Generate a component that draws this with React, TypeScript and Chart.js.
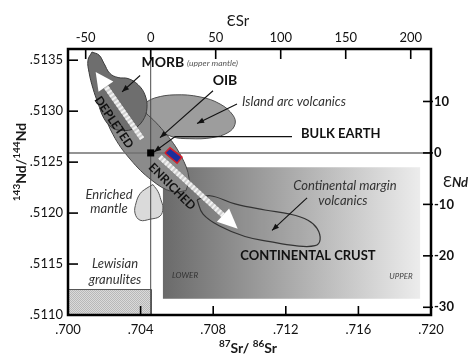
import React, { useEffect, useRef } from 'react';
import { Chart, registerables } from 'chart.js';
Chart.register(...registerables);

const FONT = 'Lato, "Open Sans", "DejaVu Sans", sans-serif';

// ---- axes ----
const srRange = [0.7, 0.72];
const ndRange = [0.511, 0.51361];
const eSrRange = [-63.6, 215.6];
const eNdRange = [-31.5, 20.2];
const srTicks = [0.7, 0.704, 0.708, 0.712, 0.716, 0.72];
const srTickLabels = ['.700', '.704', '.708', '.712', '.716', '.720'];
const ndTicks = [0.511, 0.5115, 0.512, 0.5125, 0.513, 0.5135];
const ndTickLabels = ['.5110', '.5115', '.5120', '.5125', '.5130', '.5135'];
const eSrTicks = [-50, 0, 50, 100, 150, 200];
const eNdTicks = [-30, -20, -10, 0, 10];

// ---- fields (87Sr/86Sr , 143Nd/144Nd) ----
const crustSr = [0.70523, 0.7194];
const crustNd = [0.51116, 0.51245];
const lewisSr = [0.7, 0.7046];
const lewisNd = [0.511, 0.51125];
const morbSr = [0.70132, 0.70171, 0.70198, 0.70231, 0.70276, 0.70331, 0.70386, 0.70424, 0.70435, 0.70413, 0.70364, 0.70298, 0.70242, 0.70198, 0.70165, 0.70138, 0.70116, 0.7011];
const morbNd = [0.51358, 0.51355, 0.51347, 0.51337, 0.51333, 0.51332, 0.51326, 0.51316, 0.51303, 0.51291, 0.51283, 0.51281, 0.51284, 0.51293, 0.51308, 0.51322, 0.51338, 0.5135];
const mantleSr = [0.7065, 0.70573, 0.70463, 0.70342, 0.70248, 0.70204, 0.7022, 0.70298, 0.70408, 0.70529, 0.70623, 0.70667];
const mantleNd = [0.51222, 0.51221, 0.51232, 0.51253, 0.51277, 0.51299, 0.51312, 0.51313, 0.51301, 0.5128, 0.51256, 0.51234];
const arcSr = [0.70413, 0.70479, 0.7059, 0.70727, 0.70838, 0.70909, 0.7092, 0.70882, 0.70793, 0.70672, 0.70573, 0.70496, 0.70441];
const arcNd = [0.51307, 0.51313, 0.51316, 0.51314, 0.51307, 0.51296, 0.51287, 0.51279, 0.51274, 0.51273, 0.51275, 0.51283, 0.51295];
const emSr = [0.70468, 0.70496, 0.70512, 0.70523, 0.70507, 0.70452, 0.70397, 0.70369, 0.70375, 0.70397, 0.7043];
const emNd = [0.51228, 0.51221, 0.51213, 0.51205, 0.51197, 0.51194, 0.51193, 0.512, 0.5121, 0.51219, 0.51224];
const cmvSr = [0.70711, 0.70782, 0.7092, 0.71085, 0.71223, 0.71322, 0.71372, 0.71389, 0.71361, 0.71251, 0.71113, 0.70975, 0.70838, 0.70744];
const cmvNd = [0.51213, 0.51217, 0.51209, 0.51203, 0.51199, 0.51193, 0.51185, 0.51174, 0.51168, 0.51168, 0.51172, 0.51177, 0.51187, 0.51199];
const sampleSr = [0.70534, 0.70562, 0.70628, 0.70601];
const sampleNd = [0.51259, 0.51264, 0.51255, 0.51249];

// ---- trend arrows ----
const depletedSr = [0.70408, 0.70209];
const depletedNd = [0.51273, 0.51324];
const enrichedSr = [0.70507, 0.70854];
const enrichedNd = [0.51255, 0.51198];

// ---- callout arrows ----
const morbArrowSr = [0.70397, 0.70298];
const morbArrowNd = [0.51335, 0.51319];
const oibArrowSr = [0.70799, 0.70507];
const oibArrowNd = [0.5132, 0.51274];
const arcArrowSr = [0.70931, 0.70711];
const arcArrowNd = [0.51307, 0.51288];
const bulkArrowSr = [0.71234, 0.7059, 0.70474];
const bulkArrowNd = [0.51275, 0.51275, 0.5126];
const cmvArrowSr = [0.71317, 0.71124];
const cmvArrowNd = [0.51215, 0.51183];

// ---- bulk earth reference (εSr, εNd) ----
const bulkEarthESr = [0];
const bulkEarthENd = [0];

// ---- labels ----
const fieldLabels = [
  { text: 'MORB', sr: 0.70523, nd: 0.51348, font: 'bold 14px', color: '#111', align: 'center', rot: 0 },
  { text: '(upper mantle)', sr: 0.70656, nd: 0.51347, font: 'italic 8.5px', color: '#555', align: 'left', rot: 0 },
  { text: 'OIB', sr: 0.70865, nd: 0.5133, font: 'bold 14px', color: '#111', align: 'center', rot: 0 },
  { text: 'Island arc volcanics', sr: 0.70959, nd: 0.51309, font: 'italic 13px', color: '#333', align: 'left', rot: 0 },
  { text: 'BULK EARTH', sr: 0.71284, nd: 0.51278, font: 'bold 13px', color: '#111', align: 'left', rot: 0 },
  { text: 'DEPLETED', sr: 0.70253, nd: 0.51289, font: 'bold 12px', color: '#111', align: 'center', rot: 56 },
  { text: 'ENRICHED', sr: 0.70573, nd: 0.51226, font: 'bold 12px', color: '#111', align: 'center', rot: 45 },
  { text: 'Enriched', sr: 0.70226, nd: 0.51218, font: 'italic 13px', color: '#333', align: 'center', rot: 0 },
  { text: 'mantle', sr: 0.70226, nd: 0.51204, font: 'italic 13px', color: '#333', align: 'center', rot: 0 },
  { text: 'Lewisian', sr: 0.70259, nd: 0.5115, font: 'italic 13px', color: '#333', align: 'center', rot: 0 },
  { text: 'granulites', sr: 0.70259, nd: 0.51135, font: 'italic 13px', color: '#333', align: 'center', rot: 0 },
  { text: 'LOWER', sr: 0.70645, nd: 0.51139, font: 'italic 8px', color: '#333', align: 'center', rot: 0 },
  { text: 'UPPER', sr: 0.71835, nd: 0.51138, font: 'italic 8px', color: '#444', align: 'center', rot: 0 },
  { text: 'CONTINENTAL CRUST', sr: 0.71322, nd: 0.51158, font: 'bold 13px', color: '#111', align: 'center', rot: 0 },
  { text: 'Continental margin', sr: 0.71526, nd: 0.51227, font: 'italic 13px', color: '#333', align: 'center', rot: 0 },
  { text: 'volcanics', sr: 0.71515, nd: 0.51212, font: 'italic 13px', color: '#333', align: 'center', rot: 0 },
];

const pts = (xs: number[], ys: number[]) => xs.map((x, i) => ({ x, y: ys[i] }));
const closed = (xs: number[], ys: number[]) => {
  const p = pts(xs, ys);
  p.push({ ...p[0] });
  return p;
};
const rectPts = (xr: number[], yr: number[]) =>
  closed([xr[0], xr[1], xr[1], xr[0]], [yr[0], yr[0], yr[1], yr[1]]);

type Seg = { t: string; size: number; weight?: string; style?: string; rise?: number };
function drawRich(ctx: CanvasRenderingContext2D, segs: Seg[], x: number, y: number, align: string) {
  const f = (s: Seg) => `${s.style || 'normal'} ${s.weight || 'normal'} ${s.size}px ${FONT}`;
  let w = 0;
  segs.forEach((s) => { ctx.font = f(s); w += ctx.measureText(s.t).width; });
  let cx = align === 'center' ? x - w / 2 : x;
  ctx.textAlign = 'left';
  ctx.textBaseline = 'alphabetic';
  segs.forEach((s) => {
    ctx.font = f(s);
    ctx.fillText(s.t, cx, y - (s.rise || 0));
    cx += ctx.measureText(s.t).width;
  });
}

const arrowHeads = {
  id: 'arrowHeads',
  afterDatasetDraw(chart: any, args: any) {
    const ds: any = chart.data.datasets[args.index];
    if (!ds.head) return;
    const p = args.meta.data;
    const a = p[p.length - 2], b = p[p.length - 1];
    const ang = Math.atan2(b.y - a.y, b.x - a.x);
    const { len, w, color, beyond } = ds.head;
    const cos = Math.cos(ang), sin = Math.sin(ang);
    const tx = beyond ? b.x + len * cos : b.x;
    const ty = beyond ? b.y + len * sin : b.y;
    const bx = tx - len * cos, by = ty - len * sin;
    const c = chart.ctx;
    c.save();
    c.fillStyle = color;
    c.beginPath();
    c.moveTo(tx, ty);
    c.lineTo(bx + (w / 2) * sin, by - (w / 2) * cos);
    c.lineTo(bx - (w / 2) * sin, by + (w / 2) * cos);
    c.closePath();
    c.fill();
    c.restore();
  },
};

const textLayer = {
  id: 'textLayer',
  afterDatasetsDraw(chart: any) {
    const { ctx, scales } = chart;
    ctx.save();
    fieldLabels.forEach((l) => {
      const x = scales.x.getPixelForValue(l.sr);
      const y = scales.y.getPixelForValue(l.nd);
      ctx.save();
      ctx.translate(x, y);
      if (l.rot) ctx.rotate((l.rot * Math.PI) / 180);
      ctx.font = `${l.font} ${FONT}`;
      ctx.fillStyle = l.color;
      ctx.textAlign = l.align;
      ctx.textBaseline = 'middle';
      ctx.fillText(l.text, 0, 0);
      ctx.restore();
    });
    ctx.restore();
  },
};

const frameLayer = {
  id: 'frameLayer',
  afterDraw(chart: any) {
    const { ctx, chartArea: a, scales } = chart;
    ctx.save();
    ctx.strokeStyle = '#000';
    ctx.lineWidth = 1.6;
    const ln = (x1: number, y1: number, x2: number, y2: number) => {
      ctx.beginPath(); ctx.moveTo(x1, y1); ctx.lineTo(x2, y2); ctx.stroke();
    };
    srTicks.forEach((v) => { const px = scales.x.getPixelForValue(v); ln(px, a.bottom, px, a.bottom - 9); });
    eSrTicks.forEach((v) => { const px = scales.x2.getPixelForValue(v); ln(px, a.top, px, a.top + 10); });
    ndTicks.forEach((v) => { const py = scales.y.getPixelForValue(v); ln(a.left, py, a.left + 10, py); });
    eNdTicks.forEach((v) => { const py = scales.y2.getPixelForValue(v); ln(a.right + 2, py, a.right - 8, py); });
    ctx.lineWidth = 2.5;
    ctx.strokeRect(a.left, a.top, a.right - a.left, a.bottom - a.top);

    ctx.fillStyle = '#1a1a1a';
    drawRich(ctx, [{ t: 'Ɛ', size: 15 }, { t: 'Sr', size: 15 }], 238, 26, 'center');
    drawRich(ctx, [
      { t: '87', size: 10, weight: 'bold', rise: 6 },
      { t: 'Sr/ ', size: 14, weight: 'bold' },
      { t: '86', size: 10, weight: 'bold', rise: 6 },
      { t: 'Sr', size: 14, weight: 'bold' },
    ], 248, 353, 'center');
    ctx.save();
    ctx.translate(26, 162);
    ctx.rotate(-Math.PI / 2);
    drawRich(ctx, [
      { t: '143', size: 10, weight: 'bold', rise: 6 },
      { t: 'Nd/', size: 14, weight: 'bold' },
      { t: '144', size: 10, weight: 'bold', rise: 6 },
      { t: 'Nd', size: 14, weight: 'bold' },
    ], 0, 0, 'center');
    ctx.restore();
    drawRich(ctx, [{ t: 'Ɛ', size: 15 }, { t: 'Nd', size: 13, weight: 'bold', style: 'italic' }], 443, 187, 'left');
    ctx.restore();
  },
};

function fitBox(prop: 'width' | 'height', v: number) {
  return (s: any) => { s[prop] = v; };
}

export default function App() {
  const ref = useRef<HTMLCanvasElement | null>(null);
  useEffect(() => {
    document.body.style.margin = '0';
    const canvas = ref.current!;
    const pc = document.createElement('canvas');
    pc.width = 2; pc.height = 2;
    const pctx = pc.getContext('2d')!;
    pctx.fillStyle = '#dadada'; pctx.fillRect(0, 0, 2, 2);
    pctx.fillStyle = '#b8b8b8'; pctx.fillRect(0, 0, 1, 1); pctx.fillRect(1, 1, 1, 1);
    const pattern = canvas.getContext('2d')!.createPattern(pc, 'repeat');

    const crustFill = (c: any) => {
      const chart = c.chart;
      if (!chart.chartArea) return '#999';
      const xs = chart.scales.x;
      const g = chart.ctx.createLinearGradient(xs.getPixelForValue(crustSr[0]), 0, xs.getPixelForValue(crustSr[1]), 0);
      g.addColorStop(0, '#6a6a6a');
      g.addColorStop(1, '#ececec');
      return g;
    };

    const shape = (data: any[], bg: any, border: string, bw: number, tension: number, order: number) => ({
      type: 'scatter', showLine: true, data, fill: 'shape', backgroundColor: bg,
      borderColor: border, borderWidth: bw, tension, pointRadius: 0, pointHoverRadius: 0, order,
    });
    const line = (data: any[], color: string, bw: number, order: number, extra: any = {}) => ({
      type: 'scatter', showLine: true, data, fill: false, borderColor: color, borderWidth: bw,
      tension: 0, pointRadius: 0, pointHoverRadius: 0, order, ...extra,
    });
    const callout = (xs: number[], ys: number[], order: number) =>
      line(pts(xs, ys), '#111', 1.1, order, { head: { len: 7, w: 5.5, color: '#111', beyond: false } });

    const datasets: any[] = [
      shape(rectPts(crustSr, crustNd), crustFill, 'rgba(0,0,0,0)', 0, 0, 40),
      shape(rectPts(lewisSr, lewisNd), pattern, '#555', 1, 0, 39),
      shape(closed(emSr, emNd), '#dadada', '#555', 1, 0.4, 38),
      shape(closed(arcSr, arcNd), '#9d9d9d', '#505050', 1, 0.4, 37),
      shape(closed(mantleSr, mantleNd), '#8b8b8b', '#454545', 1, 0.4, 36),
      shape(closed(morbSr, morbNd), '#6e6e6e', '#3c3c3c', 1, 0.4, 35),
      shape(closed(cmvSr, cmvNd), 'rgba(120,120,120,0.12)', '#333', 1.2, 0.4, 34),
      line([{ x: 0, y: ndRange[0] }, { x: 0, y: ndRange[1] }], '#4a4a4a', 1, 33, { xAxisID: 'x2', yAxisID: 'y' }),
      line([{ x: srRange[0], y: 0 }, { x: srRange[1], y: 0 }], '#707070', 1.6, 32, { xAxisID: 'x', yAxisID: 'y2' }),
      line(pts(depletedSr, depletedNd), '#cfcfcf', 5, 31),
      line(pts(depletedSr, depletedNd), '#f2f2f2', 5, 30, { borderDash: [2, 2], head: { len: 18, w: 18, color: '#ffffff', beyond: true } }),
      line(pts(enrichedSr, enrichedNd), '#cfcfcf', 5, 29),
      line(pts(enrichedSr, enrichedNd), '#f2f2f2', 5, 28, { borderDash: [2, 2], head: { len: 20, w: 18, color: '#ffffff', beyond: true } }),
      callout(morbArrowSr, morbArrowNd, 27),
      callout(oibArrowSr, oibArrowNd, 26),
      callout(arcArrowSr, arcArrowNd, 25),
      callout(bulkArrowSr, bulkArrowNd, 24),
      callout(cmvArrowSr, cmvArrowNd, 23),
      {
        type: 'scatter', data: pts(bulkEarthESr, bulkEarthENd), xAxisID: 'x2', yAxisID: 'y2',
        pointStyle: 'rect', pointRadius: 5, pointHoverRadius: 5, backgroundColor: '#000', borderColor: '#000', borderWidth: 0, order: 22,
      },
      shape(closed(sampleSr, sampleNd), '#1c2f9c', '#d4202a', 1.5, 0, 21),
    ];

    const tickFont = { family: FONT, size: 13 };
    const common = {
      type: 'linear', grid: { display: false, drawTicks: false, drawOnChartArea: false },
      border: { display: false }, z: 1,
    };

    const chart = new Chart(canvas, {
      type: 'scatter',
      data: { datasets },
      options: {
        responsive: false, animation: false, devicePixelRatio: 1, events: [],
        layout: { padding: 0 },
        plugins: { legend: { display: false }, tooltip: { enabled: false }, title: { display: false } },
        scales: {
          x: {
            ...common, axis: 'x', position: 'bottom', min: srRange[0], max: srRange[1],
            afterBuildTicks: (s: any) => { s.ticks = srTicks.map((v) => ({ value: v })); },
            ticks: { callback: (_v: any, i: number) => srTickLabels[i], font: tickFont, color: '#111', padding: 7, autoSkip: false, maxRotation: 0 },
            afterFit: fitBox('height', 41),
          },
          x2: {
            ...common, axis: 'x', position: 'top', min: eSrRange[0], max: eSrRange[1],
            afterBuildTicks: (s: any) => { s.ticks = eSrTicks.map((v) => ({ value: v })); },
            ticks: { callback: (v: any) => String(v), font: tickFont, color: '#111', padding: 3, autoSkip: false, maxRotation: 0 },
            afterFit: fitBox('height', 49),
          },
          y: {
            ...common, axis: 'y', position: 'left', min: ndRange[0], max: ndRange[1],
            afterBuildTicks: (s: any) => { s.ticks = ndTicks.map((v) => ({ value: v })); },
            ticks: { callback: (_v: any, i: number) => ndTickLabels[i], font: tickFont, color: '#111', padding: 5, autoSkip: false },
            afterFit: fitBox('width', 68),
          },
          y2: {
            ...common, axis: 'y', position: 'right', min: eNdRange[0], max: eNdRange[1],
            afterBuildTicks: (s: any) => { s.ticks = eNdTicks.map((v) => ({ value: v })); },
            ticks: { callback: (v: any) => String(v), font: { ...tickFont, weight: 'bold' }, color: '#111', padding: 3, autoSkip: false },
            afterFit: fitBox('width', 39),
          },
        },
      } as any,
      plugins: [arrowHeads, textLayer, frameLayer],
    } as any);
    return () => chart.destroy();
  }, []);

  return (
    <div style={{ position: 'absolute', left: 0, top: 0, width: 470, height: 356, background: '#fff' }}>
      <canvas ref={ref} width={470} height={356} style={{ display: 'block' }} />
    </div>
  );
}
